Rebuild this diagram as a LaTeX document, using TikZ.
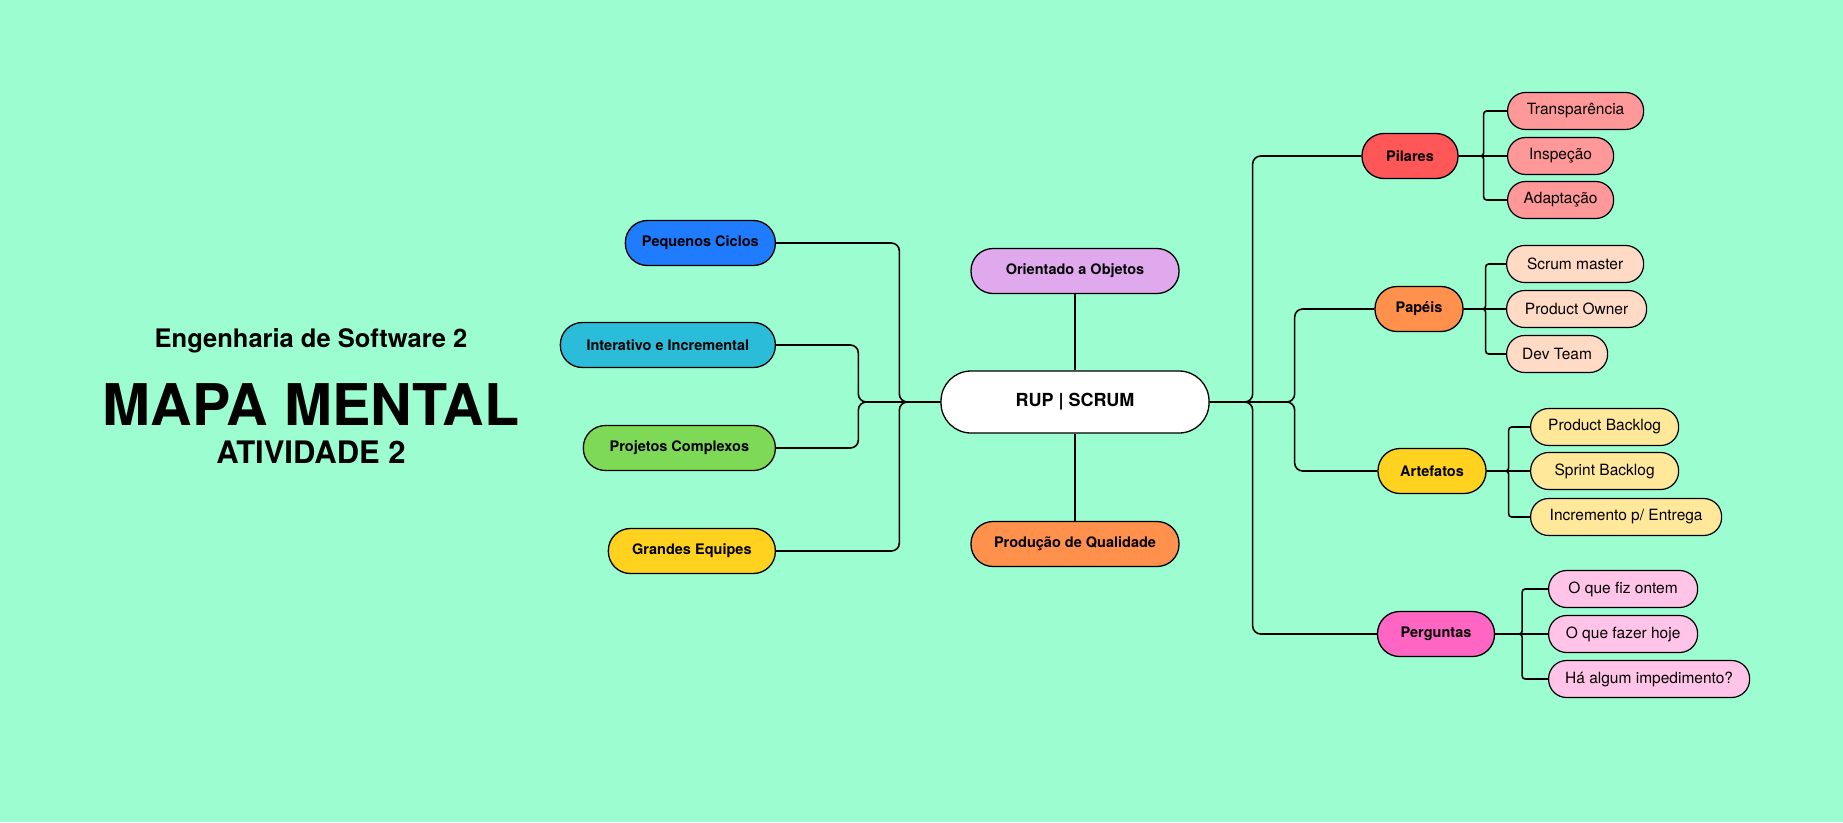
\documentclass[tikz,border=0pt]{standalone}
\usepackage{fontspec}
\setmainfont{TeX Gyre Heros}

\definecolor{menta}{RGB}{155,253,208}
\definecolor{azul}{RGB}{31,124,255}
\definecolor{ciano}{RGB}{43,188,218}
\definecolor{verde}{RGB}{126,217,87}
\definecolor{amarelo}{RGB}{255,210,31}
\definecolor{lilas}{RGB}{224,169,238}
\definecolor{laranja}{RGB}{255,145,77}
\definecolor{vermelho}{RGB}{255,87,87}
\definecolor{vermelhoclaro}{RGB}{255,152,152}
\definecolor{pessego}{RGB}{255,218,196}
\definecolor{amareloclaro}{RGB}{255,232,154}
\definecolor{rosa}{RGB}{255,102,196}
\definecolor{rosinha}{RGB}{255,196,232}

\tikzset{
    raiz/.style={draw=black, fill=white, line width=1.3pt, rounded corners=30pt,
        minimum width=268pt, minimum height=62pt, inner sep=0pt,
        font=\bfseries\fontsize{18}{18}\selectfont},
    topico/.style={draw=black, fill=#1, line width=1.3pt, rounded corners=22pt,
        minimum height=45pt, inner sep=0pt,
        font=\bfseries\fontsize{14.5}{14.5}\selectfont},
    folha/.style={draw=black, fill=#1, line width=1.2pt, rounded corners=18pt,
        minimum height=37pt, inner sep=0pt,
        font=\fontsize{15.5}{15.5}\selectfont},
    liga/.style={line width=1.6pt, rounded corners=8pt},
    ligafolha/.style={line width=1.6pt, rounded corners=3pt},
}

\begin{document}
\begin{tikzpicture}[x=1pt,y=-1pt]
    \fill[menta] (0,0) rectangle (1843,822);

    % titulo
    \node[anchor=base, font=\bfseries\fontsize{25.5}{25.5}\selectfont] (sub) at (311,347) {Engenharia de Software 2};
    \node[anchor=base, font=\bfseries\fontsize{57.5}{57.5}\selectfont] (tit) at (311,425) {MAPA MENTAL};
    \node[anchor=base, font=\bfseries\fontsize{31}{31}\selectfont] (ativ) at (311,463) {ATIVIDADE 2};

    % centro
    \node[raiz] (root) at (1075,402) {RUP | SCRUM};
    \node[topico=lilas, minimum width=208pt] (ori) at (1075,271) {Orientado a Objetos};
    \node[topico=laranja, minimum width=208pt] (prod) at (1075,544) {Produção de Qualidade};

    % lado esquerdo
    \node[topico=azul, minimum width=150pt, anchor=east] (peq) at (776,243) {Pequenos Ciclos};
    \node[topico=ciano, minimum width=215pt, anchor=east] (int) at (776,345) {Interativo e Incremental};
    \node[topico=verde, minimum width=192pt, anchor=east] (proj) at (776,448) {Projetos Complexos};
    \node[topico=amarelo, minimum width=167pt, anchor=east] (gra) at (776,551) {Grandes Equipes};

    % lado direito
    \node[topico=vermelho, minimum width=96pt] (pil) at (1410,156) {Pilares};
    \node[topico=laranja, minimum width=88pt] (pap) at (1419,309) {Papéis};
    \node[topico=amarelo, minimum width=108pt] (art) at (1432,471) {Artefatos};
    \node[topico=rosa, minimum width=117pt] (per) at (1436,634) {Perguntas};

    \node[folha=vermelhoclaro, minimum width=136pt, anchor=west] (pil1) at (1507,111) {Transparência};
    \node[folha=vermelhoclaro, minimum width=106pt, anchor=west] (pil2) at (1507,156) {Inspeção};
    \node[folha=vermelhoclaro, minimum width=106pt, anchor=west] (pil3) at (1507,200) {Adaptação};

    \node[folha=pessego, minimum width=137pt, anchor=west] (pap1) at (1506,264) {Scrum master};
    \node[folha=pessego, minimum width=140pt, anchor=west] (pap2) at (1506,309) {Product Owner};
    \node[folha=pessego, minimum width=101pt, anchor=west] (pap3) at (1506,354) {Dev Team};

    \node[folha=amareloclaro, minimum width=148pt, anchor=west] (art1) at (1530,427) {Product Backlog};
    \node[folha=amareloclaro, minimum width=148pt, anchor=west] (art2) at (1530,471) {Sprint Backlog};
    \node[folha=amareloclaro, minimum width=191pt, anchor=west] (art3) at (1530,517) {Incremento p/ Entrega};

    \node[folha=rosinha, minimum width=149pt, anchor=west] (per1) at (1548,589) {O que fiz ontem};
    \node[folha=rosinha, minimum width=149pt, anchor=west] (per2) at (1548,634) {O que fazer hoje};
    \node[folha=rosinha, minimum width=201pt, anchor=west] (per3) at (1548,679) {Há algum impedimento?};

    % ligacoes
    \draw[liga] (root.north) -- (ori.south);
    \draw[liga] (root.south) -- (prod.north);
    \foreach \n in {peq,gra}
        \draw[liga] (root.west) -- ++(-41,0) |- (\n.east);
    \foreach \n in {int,proj}
        \draw[liga] (root.west) -- ++(-82,0) |- (\n.east);
    \foreach \n in {pil,per}
        \draw[liga] (root.east) -- ++(43,0) |- (\n.west);
    \foreach \n in {pap,art}
        \draw[liga] (root.east) -- ++(85,0) |- (\n.west);

    \foreach \n/\d in {pil/25,pap/22,art/22,per/27} {
        \draw[ligafolha] (\n.east) -- ++(\d,0) |- (\n1.west);
        \draw[ligafolha] (\n.east) -- ++(\d,0) |- (\n3.west);
        \draw[ligafolha] (\n.east) -- (\n2.west);
    }
\end{tikzpicture}
\end{document}
